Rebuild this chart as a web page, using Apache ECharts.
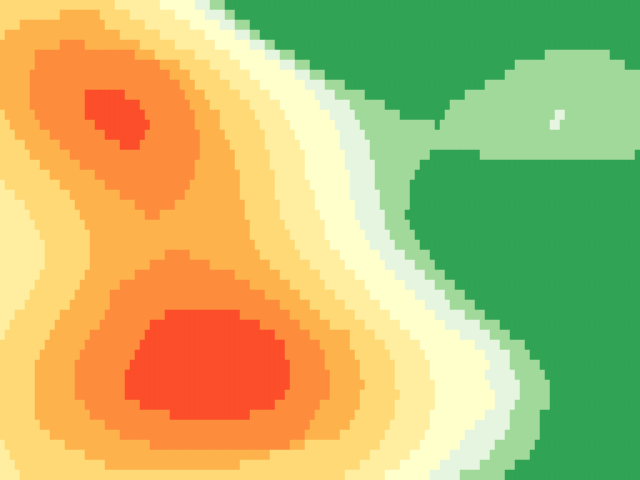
<!DOCTYPE html>
<html>
<head>
<meta charset="utf-8">
<script src="https://cdn.jsdelivr.net/npm/echarts@6/dist/echarts.min.js"></script>
<style>html,body{margin:0;padding:0;background:#ffffff}#chart{width:640px;height:480px}</style>
</head>
<body>
<div id="chart"></div>
<script>
// grid size (cells)
const COLS = 128;
const ROWS = 48;

// colour of each value class (0 = lowest ... 8 = highest)
const levelColors = ['#31a354', '#a1d99b', '#e5f5e0', '#ffffcc', '#ffeda0', '#fed976', '#feb24c', '#fd8d3c', '#fc4e2a'];

// each row (top to bottom): runs of "class:endColumn"
const rowRuns = [
  "5:23 4:32 3:39 2:42 1:45 0:128",
  "5:12 6:20 5:26 4:35 3:41 2:45 1:47 0:128",
  "5:4 6:21 5:29 4:38 3:44 2:47 1:50 0:128",
  "5:1 6:24 5:32 4:41 3:47 2:50 1:52 0:128",
  "6:12 7:17 6:28 5:35 4:43 3:50 2:53 1:55 0:128",
  "6:7 7:27 6:31 5:39 4:46 3:53 2:56 1:59 0:109 1:122 0:128",
  "6:7 7:32 6:36 5:42 4:48 3:56 2:59 1:62 0:103 1:125 0:128",
  "6:6 7:34 6:38 5:44 4:50 3:59 2:62 1:65 0:101 1:128",
  "6:6 7:36 6:39 5:46 4:52 3:61 2:65 1:69 0:97 1:128",
  "6:6 7:17 8:25 7:37 6:41 5:48 4:54 3:63 2:67 1:73 0:93 1:128",
  "6:6 7:17 8:28 7:38 6:42 5:50 4:56 3:64 2:70 1:77 0:90 1:128",
  "5:1 6:7 7:17 8:29 7:39 6:44 5:51 4:57 3:66 2:71 1:80 0:89 1:111 2:113 1:128",
  "5:2 6:8 7:19 8:30 7:39 6:44 5:52 4:58 3:67 2:72 1:87 0:88 1:110 2:112 1:128",
  "5:3 6:10 7:21 8:29 7:40 6:45 5:53 4:59 3:68 2:73 1:128",
  "5:5 6:12 7:24 8:28 7:40 6:46 5:53 4:60 3:68 2:74 1:128",
  "5:6 6:14 7:40 6:47 5:54 4:61 3:69 2:74 1:86 0:96 1:127 0:128",
  "5:8 6:16 7:39 6:47 5:54 4:61 3:69 2:75 1:84 0:128",
  "5:10 6:19 7:39 6:48 5:55 4:61 3:70 2:75 1:83 0:128",
  "4:1 5:12 6:21 7:38 6:48 5:55 4:62 3:70 2:75 1:82 0:128",
  "4:3 5:14 6:24 7:37 6:48 5:55 4:63 3:70 2:76 1:82 0:128",
  "4:5 5:15 6:27 7:35 6:49 5:56 4:63 3:71 2:76 1:82 0:128",
  "4:6 5:16 6:29 7:32 6:49 5:56 4:64 3:71 2:77 1:81 0:128",
  "4:7 5:17 6:50 5:57 4:65 3:72 2:77 1:82 0:128",
  "4:8 5:18 6:50 5:58 4:65 3:73 2:78 1:83 0:128",
  "4:9 5:18 6:51 5:59 4:66 3:74 2:79 1:84 0:128",
  "4:9 5:18 6:33 7:38 6:52 5:60 4:68 3:76 2:81 1:86 0:128",
  "4:9 5:18 6:30 7:42 6:54 5:62 4:69 3:77 2:83 1:87 0:128",
  "4:8 5:17 6:27 7:47 6:56 5:64 4:71 3:79 2:85 1:89 0:128",
  "4:7 5:16 6:24 7:50 6:58 5:65 4:73 3:81 2:87 1:91 0:128",
  "4:6 5:15 6:22 7:53 6:60 5:67 4:74 3:83 2:89 1:93 0:128",
  "4:5 5:14 6:22 7:56 6:62 5:69 4:76 3:85 2:90 1:95 0:128",
  "4:3 5:12 6:21 7:33 8:48 7:58 6:64 5:71 4:78 3:87 2:93 1:97 0:128",
  "4:2 5:11 6:20 7:30 8:52 7:60 6:66 5:73 4:80 3:89 2:96 1:100 0:128",
  "4:1 5:10 6:18 7:29 8:55 7:62 6:70 5:75 4:82 3:92 2:98 1:102 0:128",
  "5:9 6:17 7:28 8:57 7:64 6:70 5:77 4:84 3:95 2:100 1:105 0:128",
  "5:8 6:16 7:27 8:57 7:65 6:71 5:78 4:85 3:97 2:102 1:106 0:128",
  "5:7 6:15 7:26 8:58 7:65 6:72 5:79 4:86 3:98 2:102 1:108 0:128",
  "5:7 6:15 7:25 8:58 7:66 6:72 5:79 4:86 3:97 2:103 1:109 0:128",
  "5:7 6:15 7:25 8:58 7:66 6:73 5:79 4:87 3:98 2:104 1:110 0:128",
  "5:7 6:15 7:25 8:57 7:66 6:72 5:80 4:87 3:99 2:104 1:110 0:128",
  "5:7 6:17 7:28 8:55 7:64 6:72 5:79 4:87 3:99 2:103 1:110 0:128",
  "5:7 6:18 7:34 8:50 7:63 6:71 5:79 4:86 3:97 2:102 1:108 0:128",
  "5:8 6:21 7:62 6:70 5:78 4:86 3:95 2:102 1:108 0:128",
  "5:10 6:24 7:61 6:68 5:77 4:85 3:93 2:101 1:108 0:128",
  "4:1 5:13 6:30 7:58 6:61 5:76 4:84 3:92 2:99 1:107 0:128",
  "4:2 5:17 6:54 5:74 4:82 3:90 2:98 1:106 0:128",
  "4:3 5:21 6:48 5:72 4:80 3:88 2:96 1:103 0:128",
  "4:4 5:69 4:77 3:86 2:92 1:101 0:128"
];

const xCats = Array.from({ length: COLS }, (_, i) => i);
const yCats = Array.from({ length: ROWS }, (_, i) => i);

const cells = [];
rowRuns.forEach((row, r) => {
  let start = 0;
  row.split(' ').forEach(tok => {
    const parts = tok.split(':').map(Number);
    const lv = parts[0], end = parts[1];
    for (let c = start; c < end; c++) cells.push([c, r, lv]);
    start = end;
  });
});

const chart = echarts.init(document.getElementById('chart'), null, { renderer: 'canvas' });
chart.setOption({
  animation: false,
  grid: { left: 0, right: 0, top: 0, bottom: 0 },
  xAxis: { type: 'category', data: xCats, show: false },
  yAxis: { type: 'category', data: yCats, inverse: true, show: false },
  visualMap: {
    type: 'piecewise',
    show: false,
    dimension: 2,
    pieces: levelColors.map((c, i) => ({ value: i, color: c }))
  },
  series: [{
    type: 'heatmap',
    data: cells,
    progressive: 0,
    itemStyle: { borderWidth: 0 },
    emphasis: { disabled: true }
  }]
});
</script>
</body>
</html>
